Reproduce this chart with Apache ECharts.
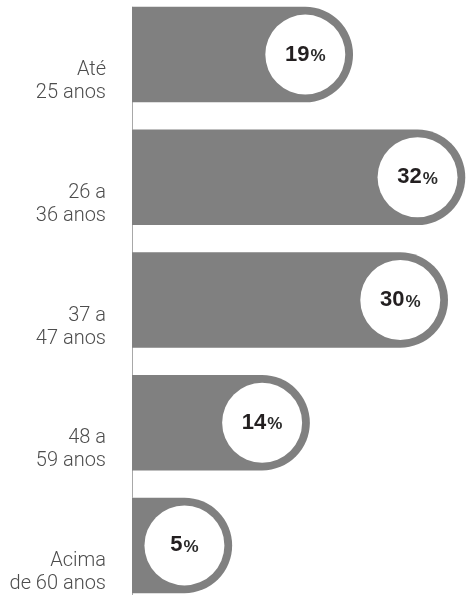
<!DOCTYPE html>
<html>
<head>
<meta charset="utf-8">
<script src="https://cdn.jsdelivr.net/npm/echarts@6/dist/echarts.min.js"></script>
<style>
  html, body { margin: 0; padding: 0; background: #ffffff; }
  #chart { width: 467px; height: 595px; }
</style>
</head>
<body>
<div id="chart"></div>
<script>
// Age groups (top to bottom) and their share in percent
const ageGroups = ['Até\n25 anos', '26 a\n36 anos', '37 a\n47 anos', '48 a\n59 anos', 'Acima\nde 60 anos'];
const shares = [19, 32, 30, 14, 5];

const BAR_GREY = '#808080';
const AXIS_GREY = '#a8a8a8';

const chart = echarts.init(document.getElementById('chart'), null, { renderer: 'canvas' });

// Each row: a grey pill whose rounded end holds a white disc with the percentage
function renderPill(params, api) {
  const catIndex = api.value(0);
  const value = api.value(1);
  const end = api.coord([value, catIndex]);
  const band = api.size([0, 1])[1];
  const h = band * 0.778;
  const r = h / 2;
  const x0 = params.coordSys.x;
  const x1 = end[0];
  const yc = end[1];
  const cx = x1 - r;
  return {
    type: 'group',
    children: [
      {
        type: 'line',
        shape: { x1: x0 + 0.5, y1: yc - r, x2: x0 + 0.5, y2: yc - r + band },
        style: { stroke: AXIS_GREY, lineWidth: 1 }
      },
      {
        type: 'rect',
        shape: { x: x0, y: yc - r, width: x1 - x0, height: h, r: [0, r, r, 0] },
        style: { fill: BAR_GREY }
      },
      {
        type: 'circle',
        shape: { cx: cx, cy: yc, r: r - 7.75 },
        style: { fill: '#ffffff' }
      },
      {
        type: 'text',
        style: {
          x: cx,
          y: yc,
          text: '{n|' + value + '}{p|%}',
          align: 'center',
          verticalAlign: 'middle',
          rich: {
            n: { fontSize: 22, fontWeight: 'bold', fill: '#231f20', fontFamily: 'Liberation Sans' },
            p: { fontSize: 17, fontWeight: 'bold', fill: '#2b2b2b', fontFamily: 'Liberation Sans', padding: [4, 0, 0, 1] }
          }
        }
      }
    ]
  };
}

chart.setOption({
  animation: false,
  grid: { left: 132, right: 0, top: -6.75, bottom: -11.75, outerBoundsMode: 'none', containLabel: false },
  xAxis: {
    type: 'value',
    min: -6.6,
    max: 32.2,
    show: false
  },
  yAxis: {
    type: 'category',
    data: ageGroups,
    inverse: true,
    axisLine: { show: false },
    axisTick: { show: false },
    splitLine: { show: false },
    axisLabel: {
      margin: 26,
      fontSize: 20,
      lineHeight: 23,
      color: '#4d4d4d',
      fontFamily: 'Roboto',
      fontWeight: 300,
      align: 'right',
      verticalAlign: 'top',
      padding: [4, 0, 0, 0]
    }
  },
  series: [{
    type: 'custom',
    renderItem: renderPill,
    encode: { x: 1, y: 0 },
    data: shares.map((v, i) => [i, v])
  }]
});
</script>
</body>
</html>
